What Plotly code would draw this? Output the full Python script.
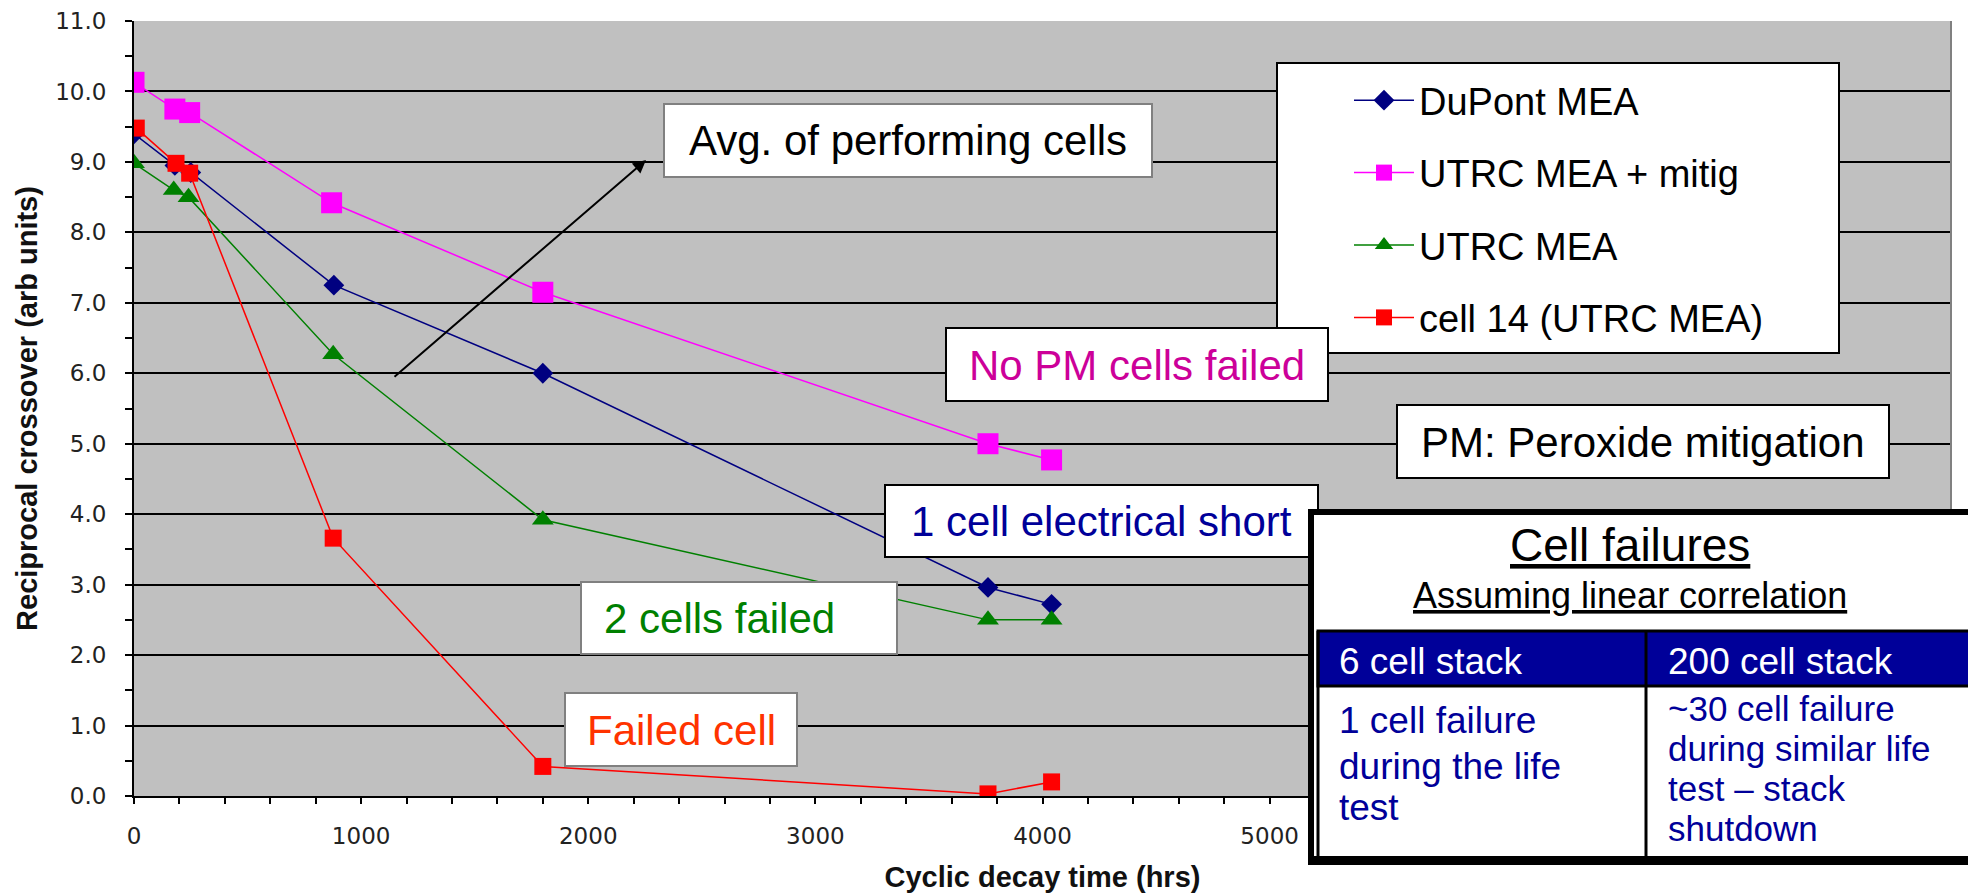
import plotly.graph_objects as go

# series
dupont_x = [0, 180, 250, 880, 1800, 3760, 4040]
dupont_y = [9.4, 8.95, 8.85, 7.25, 6.0, 2.96, 2.72]

mitig_x = [0, 180, 245, 870, 1800, 3760, 4040]
mitig_y = [10.13, 9.75, 9.7, 8.42, 7.15, 5.0, 4.77]

utrc_x = [0, 175, 240, 877, 1800, 3760, 4040]
utrc_y = [8.98, 8.6, 8.5, 6.27, 3.92, 2.5, 2.5]

cell14_x = [10, 185, 245, 877, 1800, 3760, 4040]
cell14_y = [9.48, 8.98, 8.84, 3.66, 0.42, 0.03, 0.2]

series_names = ["DuPont MEA", "UTRC MEA + mitig", "UTRC MEA", "cell 14 (UTRC MEA)"]

# x tick labels visible left of the table (the rest sit under it)
x_ticks = [0, 1000, 2000, 3000, 4000, 5000]

table_header = ["6 cell stack", "200 cell stack"]
table_left = ["1 cell failure", "during the life", "test"]
table_right = ["~30 cell failure", "during similar life", "test \u2013 stack", "shutdown"]

W, H = 1968, 893
L, R, T, B = 134, 1951, 21, 796
FONT = "Liberation Sans, Arial, sans-serif"


def px(x):
    return (x - L) / (R - L)


def py(y):
    return (B - y) / (B - T)


fig = go.Figure()

styles = [
    ("#000080", "diamond", 16),
    ("#FF00FF", "square", 21),
    ("#008000", "triangle-up", 19),
    ("#FF0000", "square", 17),
]
for name, xs, ys, (col, sym, sz) in zip(
    series_names,
    [dupont_x, mitig_x, utrc_x, cell14_x],
    [dupont_y, mitig_y, utrc_y, cell14_y],
    styles,
):
    fig.add_trace(go.Scatter(
        x=xs, y=ys, name=name, legendgroup=name, mode="lines+markers",
        line=dict(color=col, width=1.5),
        marker=dict(color=col, symbol=sym, size=sz, line=dict(width=0)),
    ))

shapes = []
# right border of plot area
shapes.append(dict(type="line", xref="paper", yref="paper", x0=1, x1=1, y0=0, y1=1,
                   line=dict(color="#808080", width=2), layer="above"))


def box(x0, y0, x1, y1, border="black", width=2, fill="white"):
    shapes.append(dict(type="rect", xref="paper", yref="paper",
                       x0=px(x0), x1=px(x1), y0=py(y1), y1=py(y0),
                       fillcolor=fill, line=dict(color=border, width=width), layer="above"))


annotations = []


def label(text, x, y, color, size, anchor="center", family=FONT):
    annotations.append(dict(text=text, xref="paper", yref="paper", x=px(x), y=py(y),
                            xanchor=anchor, yanchor="middle", showarrow=False,
                            font=dict(color=color, size=size, family=family)))


# legend box
box(1277, 63, 1839, 353)

# text boxes
box(664, 104, 1152, 177, border="#808080")
label("Avg. of performing cells", 908, 141, "black", 42)
box(946, 328, 1328, 401)
label("No PM cells failed", 1137, 365, "#CC0099", 42)
box(1397, 405, 1889, 478)
label("PM: Peroxide mitigation", 1643, 442, "black", 42)
box(885, 485, 1318, 557)
label("1 cell electrical short", 1101, 521, "#000099", 42)
box(581, 582, 897, 654, border="#808080")
label("2 cells failed", 602, 618, "#008000", 42, anchor="left")
box(565, 693, 797, 766, border="#808080")
label("Failed cell", 681, 730, "#FF3300", 42)

# arrow
annotations.append(dict(text="", xref="paper", yref="paper", x=px(646), y=py(160),
                        axref="pixel", ayref="pixel", ax=-253, ay=218,
                        showarrow=True, arrowhead=2, arrowsize=1.3, arrowwidth=2,
                        arrowcolor="black"))

# table
box(1311, 512, 1990, 862, border="black", width=6)
shapes.append(dict(type="rect", xref="paper", yref="paper",
                   x0=px(1318), x1=px(1990), y0=py(686), y1=py(631),
                   fillcolor="#000099", line=dict(color="black", width=3), layer="above"))
for xv in [1318, 1646]:
    shapes.append(dict(type="line", xref="paper", yref="paper", x0=px(xv), x1=px(xv),
                       y0=py(858), y1=py(631), line=dict(color="black", width=3), layer="above"))
shapes.append(dict(type="line", xref="paper", yref="paper", x0=px(1311), x1=px(1990),
                   y0=py(859), y1=py(859), line=dict(color="black", width=6), layer="above"))

label("<u>Cell failures</u>", 1630, 545, "black", 46)
label("<u>Assuming linear correlation</u>", 1630, 595, "black", 36)
label(table_header[0], 1337, 661, "white", 37, anchor="left")
label(table_header[1], 1666, 661, "white", 37, anchor="left")
for t, yv in zip(table_left, [720, 766, 808]):
    label(t, 1337, yv, "#000099", 37, anchor="left")
for t, yv in zip(table_right, [708, 748, 788, 828]):
    label(t, 1666, yv, "#000099", 35, anchor="left")

tickfont = dict(family="DejaVu Sans, sans-serif", size=23, color="#222")

fig.update_layout(
    width=W, height=H,
    margin=dict(l=L, r=W - R, t=T, b=H - B, pad=0),
    paper_bgcolor="white", plot_bgcolor="#C0C0C0",
    shapes=shapes, annotations=annotations,
    showlegend=True,
    legend=dict(x=px(1349), y=py(69), xanchor="left", yanchor="top",
                bgcolor="rgba(0,0,0,0)", borderwidth=0, tracegroupgap=20,
                itemwidth=60, font=dict(family=FONT, size=38, color="black")),
    xaxis=dict(range=[0, 8000], tickvals=x_ticks,
               showgrid=False, zeroline=False, showline=True, linecolor="black", linewidth=2,
               ticks="outside", ticklen=6, tickwidth=2, tickcolor="black",
               minor=dict(dtick=200, ticks="outside", ticklen=6, tickwidth=1.5, tickcolor="black", showgrid=False),
               tickfont=tickfont, ticklabelstandoff=12, automargin=False,
               title=dict(text="<b>Cyclic decay time (hrs)</b>", standoff=21,
                          font=dict(family=FONT, size=29, color="#111"))),
    yaxis=dict(range=[0, 11], dtick=1, tickformat=".1f",
               showgrid=True, gridcolor="black", gridwidth=2, zeroline=False,
               showline=True, linecolor="black", linewidth=2,
               ticks="outside", ticklen=7, tickwidth=2, tickcolor="black",
               minor=dict(dtick=0.5, ticks="outside", ticklen=7, tickwidth=1.5, tickcolor="black", showgrid=False),
               tickfont=tickfont, ticklabelstandoff=14, automargin=False,
               title=dict(text="<b>Reciprocal crossover (arb units)</b>", standoff=9,
                          font=dict(family=FONT, size=29, color="#111"))),
)

fig.write_html("out.html", config={"displayModeBar": False},
               post_script="document.body.style.margin='0';")
